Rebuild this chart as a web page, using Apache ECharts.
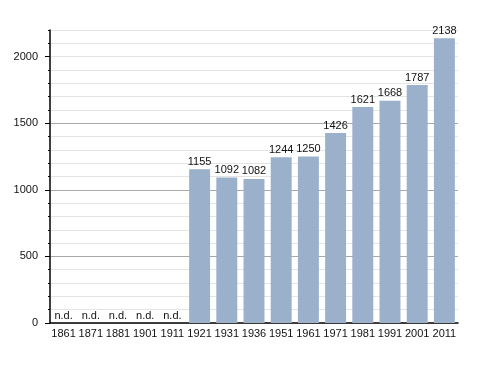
<!DOCTYPE html>
<html><head><meta charset="utf-8">
<script src="https://cdn.jsdelivr.net/npm/echarts@6/dist/echarts.min.js"></script>
<style>html,body{margin:0;padding:0;background:#fff}#c{width:488px;height:373px}</style>
</head><body><div id="c"></div>
<script>
const categories = ['1861','1871','1881','1901','1911','1921','1931','1936','1951','1961','1971','1981','1991','2001','2011'];
const values = [null,null,null,null,null,1155,1092,1082,1244,1250,1426,1621,1668,1787,2138];
const majorTicks = [0,500,1000,1500,2000];
const noDataText = 'n.d.';

const font = 'Liberation Sans';
const chart = echarts.init(document.getElementById('c'), null, {renderer:'canvas'});
chart.setOption({
  animation:false,
  grid:{left:50,right:30,top:30,bottom:50,containLabel:false},
  xAxis:{type:'category',data:categories,
    axisLine:{lineStyle:{color:'#000',width:1.5}},
    axisTick:{show:false},
    axisLabel:{color:'#111',fontFamily:font,fontSize:11,margin:5,interval:0},
    splitLine:{show:false}},
  yAxis:[
    {type:'value',min:0,max:2200,interval:100,position:'left',
      axisLine:{show:true,lineStyle:{color:'#000',width:1.5}},
      axisTick:{show:true,length:2,lineStyle:{color:'#000'}},
      axisLabel:{show:false},
      splitLine:{show:true,lineStyle:{color:'#e4e4e4',width:1}}},
    {type:'value',min:0,max:2200,interval:500,position:'left',
      axisLine:{show:false},
      axisTick:{show:true,length:5,lineStyle:{color:'#000'},customValues:majorTicks},
      axisLabel:{show:true,color:'#111',fontFamily:font,fontSize:11,margin:12,customValues:majorTicks,formatter:v=>String(v)},
      splitLine:{show:true,showMaxLine:false,showMinLine:false,lineStyle:{color:'#a8a8a8',width:1}}}
  ],
  series:[{type:'bar',yAxisIndex:0,barWidth:'77%',
    itemStyle:{color:'#9ab0cb'},
    label:{show:true,position:'top',distance:2,color:'#111',fontFamily:font,fontSize:11},
    data:values.map(v=>v===null?{value:0,label:{formatter:noDataText}}:v)
  }]
});
</script></body></html>
